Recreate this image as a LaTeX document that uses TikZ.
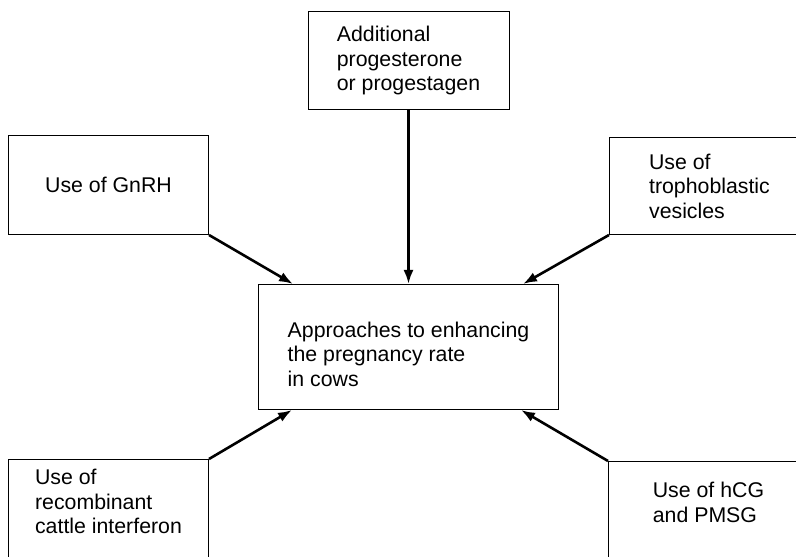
\documentclass[tikz,border=0pt]{standalone}
\usepackage{fontspec}
\setmainfont{Liberation Sans}
\usetikzlibrary{positioning,arrows.meta}

\tikzset{
  box/.style={draw, line width=1pt, minimum width=200pt, align=left,
    inner xsep=6pt, inner ysep=6pt, font=\fontsize{21.3}{24.5}\selectfont},
  feed/.style={-{Latex[length=14pt,width=10pt]}, line width=2.6pt},
}

\begin{document}
\begin{tikzpicture}[x=1pt, y=1pt]
  \path [use as bounding box, clip] (0,0) rectangle (796,557);

  % centre box
  \node [box, minimum width=300pt, minimum height=125pt] (approach) at (408.5,210)
    {\rule{0pt}{30pt}Approaches to enhancing\\the pregnancy rate\\in cows};

  \node [box, minimum width=201pt, minimum height=98pt, above=174pt of approach] (progest)
    {Additional\\progesterone\\or progestagen};
  \node [box, minimum height=99pt, above left=49pt and 49pt of approach.north west] (gnrh)
    {Use of GnRH};
  \node [box, minimum height=97pt, above right=49pt and 50pt of approach.north east] (vesicle)
    {Use of\\trophoblastic\\vesicles};

  % bottom boxes run off the page
  \node [box, inner ysep=10pt, below left=49pt and 49pt of approach.south west] (interferon)
    {Use of\\recombinant\\cattle interferon\rule[-40pt]{0pt}{0pt}};
  \node [box, inner ysep=21pt, below right=51pt and 49pt of approach.south east] (hcg)
    {Use of hCG\\and PMSG\rule[-40pt]{0pt}{0pt}};

  \draw [feed] (gnrh.south east) -- ([xshift=35pt]approach.north west);
  \draw [feed] (progest.south) -- (approach.north);
  \draw [feed] (vesicle.south west) -- ([xshift=-36pt]approach.north east);
  \draw [feed] (interferon.north east) -- ([xshift=34pt]approach.south west);
  \draw [feed] (hcg.north west) -- ([xshift=-38pt]approach.south east);
\end{tikzpicture}
\end{document}
